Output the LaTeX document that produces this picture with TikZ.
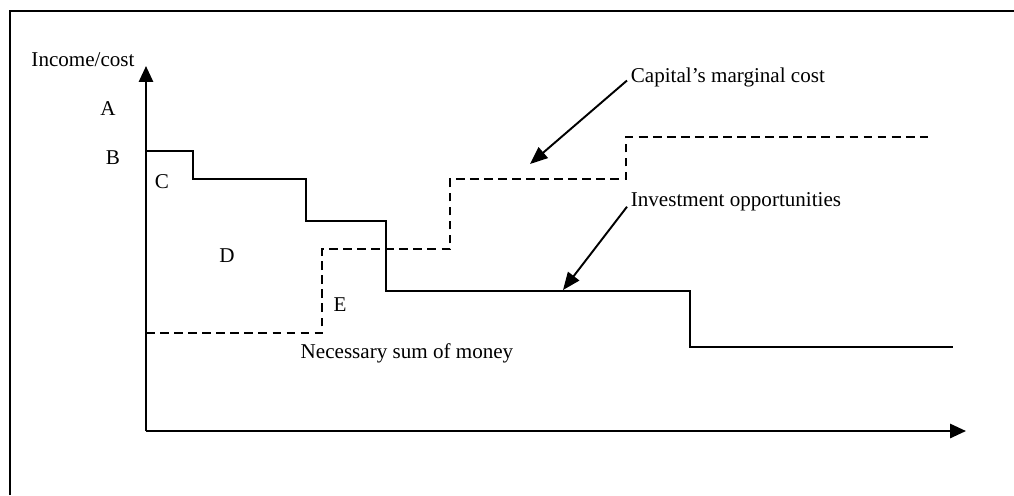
\documentclass[tikz,border=0pt]{standalone}
\usepackage{fontspec}
\setmainfont{Liberation Serif}
\usetikzlibrary{arrows.meta}

\begin{document}
\begin{tikzpicture}[
    x=0.02cm, y=-0.02cm,
    lbl/.style={font=\fontsize{12}{14}\selectfont, inner sep=2pt},
    axis/.style={-{Triangle[length=9pt,width=8pt]}, line width=1.3pt},
    invest/.style={line width=1.3pt},
    costline/.style={line width=1.3pt, dash pattern=on 5pt off 3pt},
    pointer/.style={-{Triangle[length=10pt,width=8pt]}, line width=1.1pt}
]
\useasboundingbox (0,0) rectangle (1014,495);
\draw[line width=1.3pt] (10,495) -- (10,11) -- (1014,11);

% axes
\coordinate (o) at (146,431);
\coordinate (ytop) at (146,66);
\coordinate (xend) at (966,431);
\draw[axis] (o) -- (ytop);
\draw[axis] (o) -- (xend);

% curves
\draw[invest] (146,151) -| (193,179) -| (306,221) -| (386,291) -| (690,347) -- (953,347);
\draw[costline] (146,333) -| (322,249) -| (450,179) -| (626,137) -- (928,137);

\node[lbl] (ylabel) at (83,60) {Income/cost};
\node[lbl] (a) at (108,109) {A};
\node[lbl] (b) at (113,158) {B};
\node[lbl] (c) at (162,182) {C};
\node[lbl] (d) at (227,256) {D};
\node[lbl] (e) at (340,305) {E};
\node[lbl] (money) at (407,353) {Necessary sum of money};

\node[lbl, anchor=west] (capital) at (627,77) {Capital’s marginal cost};
\node[lbl, anchor=west] (invopp) at (627,202) {Investment opportunities};
\coordinate (captip) at (530,164);
\coordinate (invtip) at (563,290);
\draw[pointer] ([yshift=-2pt]capital.west) -- (captip);
\draw[pointer] (invopp.base west) -- (invtip);
\end{tikzpicture}
\end{document}
